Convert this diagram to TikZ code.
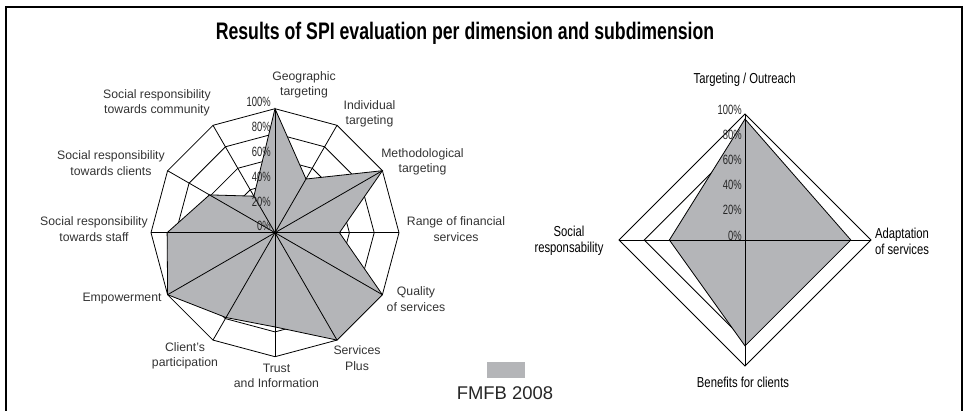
\documentclass[tikz,border=0pt]{standalone}
\usepackage{fontspec}
\setmainfont{Liberation Sans}
\newfontfamily\condfont[FakeStretch=0.78]{Liberation Sans}
\newfontfamily\tickfont[FakeStretch=0.7]{Liberation Sans}
\newfontfamily\titlefont[FakeStretch=0.74]{Liberation Sans}
\definecolor{seriesGray}{RGB}{180,181,184}
\tikzset{
  ringline/.style={draw=black, line width=0.8bp},
  spoke/.style={black, line width=0.8bp},
  series/.style={fill=seriesGray, draw=black, line width=0.8bp},
  ticklabel/.style={anchor=east, inner sep=0pt, text=black!85, font=\tickfont\fontsize{13.5}{13.5}\selectfont},
  sublabel/.style={align=center, inner sep=0pt, text=black!80, font=\fontsize{12.3}{15.3}\selectfont},
  dimlabel/.style={align=center, inner sep=0pt, font=\condfont\fontsize{14.5}{16}\selectfont},
}
\begin{document}
\begin{tikzpicture}[x=1bp,y=1bp]
  \useasboundingbox (0,0) rectangle (966,410);
  \clip (0,0) rectangle (966,410);

  %FRAME AND TITLE
  \draw[line width=2bp] (5.5,-10) -- (5.5,402.5) -- (961.5,402.5) -- (961.5,-10);
  \node[font=\titlefont\bfseries\fontsize{24}{24}\selectfont] (title) at (465,377)
    {Results of SPI evaluation per dimension and subdimension};

  %LEFT RADAR (subdimensions)
  \begin{scope}[shift={(275,177.3)}]
    \foreach \r in {0.2,0.4,0.6,0.8,1}
      \draw[ringline] (90:\r*124) \foreach \a in {60,30,...,-240} {-- (\a:\r*124)} -- cycle;
    \filldraw[series] (90:124) \foreach \a/\v in {60/0.50,30/1,0/0.52,-30/1,-60/1,-90/0.76,
      -120/0.79,-150/1,-180/0.87,-210/0.61,-240/0.34} {-- (\a:\v*124)} -- cycle;
    \foreach \a in {90,60,...,-240}
      \draw[spoke] (0,0) -- (\a:124);
    \foreach \p in {0,20,...,100}
      \node[ticklabel] at (-4,\p*1.24+6.5) {\p\%};
  \end{scope}

  \node[sublabel] (geo) at (304,325) {Geographic\\targeting};
  \node[sublabel] (indiv) at (369.5,296) {Individual\\targeting};
  \node[sublabel] (method) at (422.5,248) {Methodological\\targeting};
  \node[sublabel] (range) at (456,181) {Range of financial\\services};
  \node[sublabel] (quality) at (416,111) {Quality\\of services};
  \node[sublabel] (plus) at (357,52) {Services\\Plus};
  \node[sublabel] (trust) at (276.5,34) {Trust\\and Information};
  \node[sublabel] (particip) at (185,54) {Client's\\participation};
  \node[sublabel] (empower) at (122,111) {Empowerment};
  \node[sublabel] (staff) at (94,181) {Social responsibility\\towards staff};
  \node[sublabel] (clients) at (111,247) {Social responsibility\\towards clients};
  \node[sublabel] (community) at (157,307.5) {Social responsibility\\towards community};

  %RIGHT RADAR (dimensions)
  \begin{scope}[shift={(745,170)}]
    \foreach \r in {0.2,0.4,0.6,0.8,1}
      \draw[ringline] (90:\r*126) -- (0:\r*126) -- (-90:\r*126) -- (180:\r*126) -- cycle;
    \filldraw[series] (90:0.96*126) -- (0:0.84*126) -- (-90:0.84*126) -- (180:0.60*126) -- cycle;
    \foreach \a in {90,0,-90,180}
      \draw[spoke] (0,0) -- (\a:126);
    \foreach \p in {0,20,...,100}
      \node[ticklabel] at (-3,\p*1.26+4.5) {\p\%};
  \end{scope}

  \node[dimlabel] (outreach) at (744.7,330) {Targeting / Outreach};
  \node[dimlabel] (adaptation) at (902,169) {Adaptation\\of services};
  \node[dimlabel] (socialresp) at (569,169) {Social\\responsability};
  \node[dimlabel] (benefits) at (743,28) {Benefits for clients};

  %LEGEND
  \node[fill=seriesGray, minimum width=38bp, minimum height=16bp, inner sep=0pt] (legendkey) at (505.8,39.7) {};
  \node[font=\fontsize{18.5}{18.5}\selectfont, text=black!85] (legendtext) at (505,16.7) {FMFB 2008};
\end{tikzpicture}
\end{document}
